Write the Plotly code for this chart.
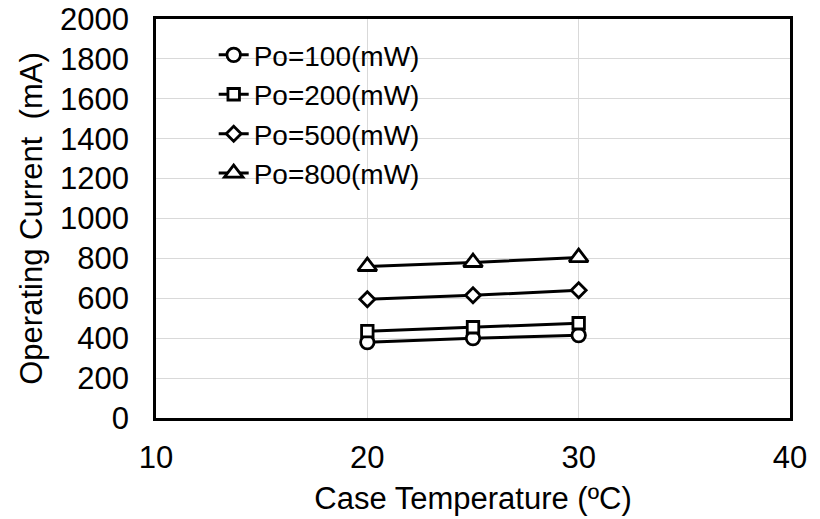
import plotly.graph_objects as go

temps = [20, 25, 30]
po100 = [380, 400, 415]
po200 = [435, 455, 475]
po500 = [595, 615, 640]
po800 = [760, 780, 805]
names = ["Po=100(mW)", "Po=200(mW)", "Po=500(mW)", "Po=800(mW)"]
series = [po100, po200, po500, po800]
symbols = ["circle", "square", "diamond", "triangle-up"]
sizes = [13.5, 11.5, 11.5, 16.5]

fig = go.Figure()
for i, (nm, ys, sym, sz) in enumerate(zip(names, series, symbols, sizes)):
    fig.add_trace(go.Scatter(
        x=temps, y=ys, name=nm, mode="lines+markers",
        line=dict(color="black", width=3),
        marker=dict(symbol=sym, size=sz, color="white",
                    line=dict(color="black", width=2.8)),
        legendgroup=f"g{i}",
    ))

font = "Liberation Sans, Arial, sans-serif"
fig.update_layout(
    width=820, height=519,
    margin=dict(l=156, r=30, t=19, b=101, autoexpand=False),
    paper_bgcolor="white", plot_bgcolor="white",
    font=dict(family=font, size=31, color="black"),
    showlegend=True,
    legend=dict(x=0.091, y=0.972, xanchor="left", yanchor="top",
                font=dict(size=28, color="black"),
                bgcolor="rgba(0,0,0,0)", traceorder="grouped",
                tracegroupgap=0, itemwidth=30),
    xaxis=dict(range=[10, 40], tickvals=[10, 20, 30, 40],
               showgrid=True, gridcolor="#d9d9d9", gridwidth=1,
               showline=True, linecolor="black", linewidth=2.5, mirror=True,
               ticks="", ticklabelstandoff=10, zeroline=False, automargin=False,
               ticklabeloverflow="allow",
               title=dict(text="Case Temperature (ºC)", standoff=14,
                          font=dict(size=31))),
    yaxis=dict(range=[0, 2000], tickvals=list(range(0, 2001, 200)),
               showgrid=True, gridcolor="#d9d9d9", gridwidth=1,
               showline=True, linecolor="black", linewidth=2.5, mirror=True,
               ticks="", ticklabelstandoff=18, zeroline=False, automargin=False,
               ticklabeloverflow="allow",
               title=dict(text="Operating Current  (mA)", standoff=9,
                          font=dict(size=31))),
)

fig.write_html("out.html", config={"displayModeBar": False},
               post_script="document.body.style.margin='0';")
